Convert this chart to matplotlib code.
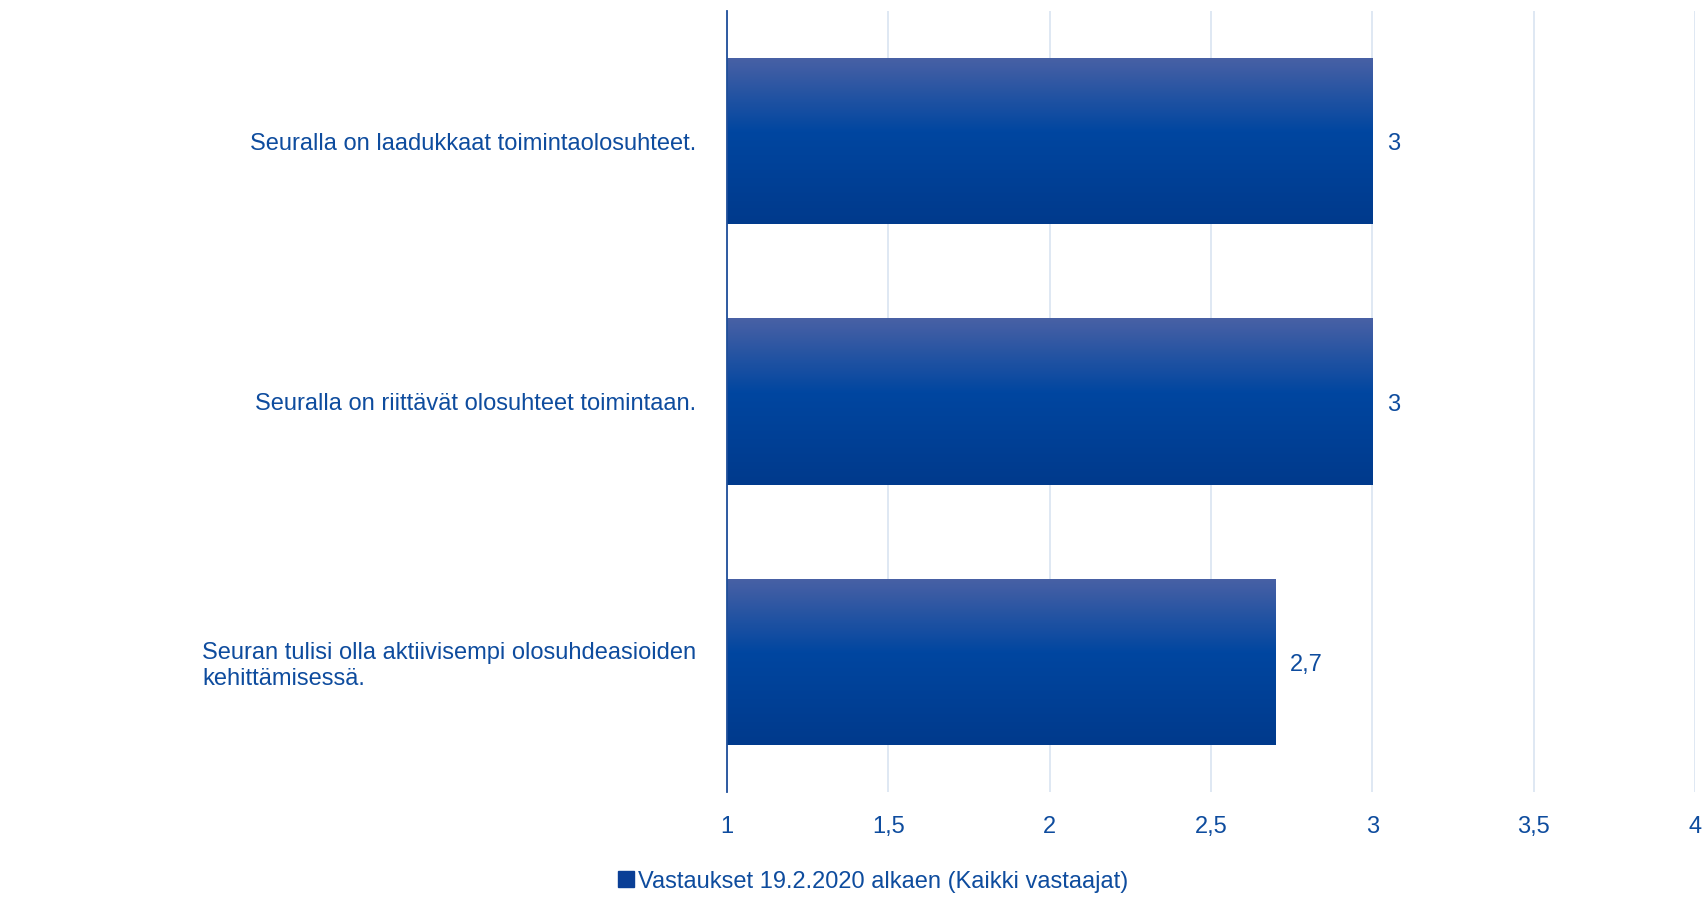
import numpy as np
import matplotlib.pyplot as plt
from matplotlib.colors import LinearSegmentedColormap
from matplotlib.lines import Line2D

plt.rcParams['font.family'] = ['Liberation Sans', 'DejaVu Sans']

categories = [
    "Seuralla on laadukkaat toimintaolosuhteet.",
    "Seuralla on riittävät olosuhteet toimintaan.",
    "Seuran tulisi olla aktiivisempi olosuhdeasioiden\nkehittämisessä.",
]
values = [3, 3, 2.7]
value_labels = ["3", "3", "2,7"]
xticks = [1, 1.5, 2, 2.5, 3, 3.5, 4]
xtick_labels = ["1", "1,5", "2", "2,5", "3", "3,5", "4"]
series_name = "Vastaukset 19.2.2020 alkaen (Kaikki vastaajat)"

text_col = '#0E4C9E'
bar_cmap = LinearSegmentedColormap.from_list(
    'bar', [(0, '#4961A5'), (0.45, '#0046A0'), (1, '#003A8C')])

fig = plt.figure(figsize=(17.04, 8.97), dpi=100)
ax = fig.add_axes([0.4266, 0.1171, 0.9947 - 0.4266, 0.9877 - 0.1171])

y = np.arange(len(categories))
bars = ax.barh(y, [v - 1 for v in values], left=1, height=0.64, color='#0046A0', zorder=2)

# vertical gradient on each bar
grad = np.linspace(0, 1, 256).reshape(-1, 1)
for b in bars:
    x0, y0 = b.get_x(), b.get_y()
    w, h = b.get_width(), b.get_height()
    im = ax.imshow(grad, cmap=bar_cmap, aspect='auto', zorder=3,
                   extent=(x0, x0 + w, y0 + h, y0), origin='upper')
    im.set_clip_path(b)

for yi, v, lab in zip(y, values, value_labels):
    ax.text(v + 0.045, yi + 0.012, lab, va='center', ha='left', fontsize=17, color=text_col)

ax.set_xlim(1, 4)
ax.set_ylim(len(categories) - 0.5, -0.5)
ax.set_xticks(xticks)
ax.set_xticklabels(xtick_labels, fontsize=17, color=text_col)
ax.set_yticks(y)
ax.set_yticklabels(categories, fontsize=17, color=text_col, multialignment='left')
ax.tick_params(axis='both', length=0)
ax.tick_params(axis='x', pad=17)
ax.tick_params(axis='y', pad=22)
ax.grid(axis='x', color='#DCE6F2', linewidth=1.3, zorder=0)
ax.set_axisbelow(True)
for s in ['top', 'right', 'bottom']:
    ax.spines[s].set_visible(False)
ax.spines['left'].set_color('#1F4E9A')
ax.spines['left'].set_linewidth(1.3)
ax.spines['left'].set_zorder(4)

handle = Line2D([], [], marker='s', color='#0A3F96', linestyle='none', markersize=11)
fig.legend([handle], [series_name], loc='center', bbox_to_anchor=(0.512, 0.017),
           frameon=False, fontsize=17, labelcolor=text_col, handletextpad=0.1,
           handlelength=0.8)

fig.savefig('out.png', dpi=100)
